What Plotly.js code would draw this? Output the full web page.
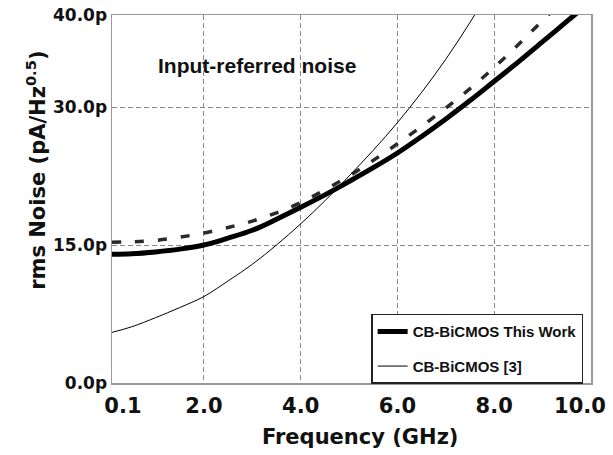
<!DOCTYPE html>
<html>
<head>
<meta charset="utf-8">
<script src="https://cdn.plot.ly/plotly-3.0.1.min.js"></script>
<style>html,body{margin:0;padding:0;background:#fff;}#chart{width:613px;height:455px;}</style>
</head>
<body>
<div id="chart"></div>
<script>
// Frequency samples (GHz)
const freq = [0.1, 0.5, 1, 1.5, 2, 2.5, 3, 3.5, 4, 4.5, 5, 5.5, 6, 6.5, 7, 7.5, 8, 8.5, 9, 9.5, 10];
// CB-BiCMOS This Work (solid, thick)
const thisWorkSolid = [14.0, 14.05, 14.25, 14.55, 15.0, 15.75, 16.6, 17.8, 19.1, 20.45, 21.9, 23.4, 25.0, 26.8, 28.7, 30.7, 32.8, 34.9, 37.1, 39.3, 41.5];
// CB-BiCMOS This Work (dashed)
const thisWorkDashed = [15.3, 15.35, 15.5, 15.85, 16.3, 16.9, 17.6, 18.5, 19.6, 21.0, 22.5, 24.2, 26.0, 27.9, 29.9, 32.0, 34.3, 36.8, 39.4, 42.0, 44.7];
// CB-BiCMOS [3] (thin)
const ref3 = [5.5, 6.1, 7.1, 8.2, 9.4, 11.1, 12.9, 15.0, 17.3, 19.8, 22.5, 25.3, 28.3, 31.6, 35.2, 39.2, 43.5, 48.0, 53.0, 58.0, 63.0];

const NB = '\u00a0';
const PAD3 = NB + NB + NB;
const xTickVals = [0.1, 2, 4, 6, 8, 10];
const xTickText = [PAD3 + PAD3 + '0.1', PAD3 + '2.0', PAD3 + '4.0', PAD3 + '6.0', PAD3 + '8.0', '10.0'];
const yTickVals = [0, 15, 30, 40];
const yTickText = ['0.0p', '15.0p', '30.0p', '40.0p'];

const traces = [
  {x: freq, y: thisWorkDashed, mode: 'lines', name: 'CB-BiCMOS This Work (dashed)', showlegend: false,
   line: {color: '#2a2a2a', width: 3.5, dash: '9px,14px', shape: 'spline'}},
  {x: freq, y: thisWorkSolid, mode: 'lines', name: 'CB-BiCMOS This Work', legendgroup: 'a', legendrank: 1,
   line: {color: '#000', width: 5, shape: 'spline'}},
  {x: freq, y: ref3, mode: 'lines', name: 'CB-BiCMOS [3]', legendgroup: 'b', legendrank: 2,
   line: {color: '#000', width: 1, shape: 'spline'}}
];

const tickFontX = {family: 'DejaVu Sans', size: 21, color: '#111', weight: 'bold'};
const tickFontY = {family: 'DejaVu Sans', size: 17, color: '#111', weight: 'bold'};

const layout = {
  width: 613, height: 455,
  margin: {l: 112, r: 22, t: 15, b: 72},
  paper_bgcolor: '#fff', plot_bgcolor: '#fff',
  showlegend: true,
  xaxis: {
    range: [0.1, 10], tickmode: 'array', tickvals: xTickVals, ticktext: xTickText,
    ticklabelshift: -11, ticklabelstandoff: 3, ticklabeloverflow: 'allow',
    showgrid: true, gridcolor: '#888', gridwidth: 1, griddash: '5px,3px',
    showline: true, mirror: true, linecolor: '#999', linewidth: 1.5,
    zeroline: false, ticks: '', tickfont: tickFontX
  },
  yaxis: {
    range: [0, 40], tickmode: 'array', tickvals: yTickVals, ticktext: yTickText,
    showgrid: true, gridcolor: '#888', gridwidth: 1, griddash: '5px,3px',
    showline: true, mirror: true, linecolor: '#999', linewidth: 1.5,
    zeroline: false, ticks: '', tickfont: tickFontY
  },
  legend: {
    x: 0.541, y: 0.188, xanchor: 'left', yanchor: 'top',
    bgcolor: '#fff', bordercolor: '#222', borderwidth: 1.5,
    font: {family: 'Liberation Sans', size: 15, color: '#111', weight: 'bold'},
    tracegroupgap: 12, itemwidth: 30, traceorder: 'grouped'
  },
  annotations: [
    {text: 'Input-referred noise', xref: 'paper', yref: 'paper', x: 0.302, y: 0.864,
     xanchor: 'center', yanchor: 'middle', showarrow: false,
     font: {family: 'Liberation Sans', size: 21, color: '#111', weight: 'bold'}},
    {text: 'Frequency (GHz)', xref: 'paper', yref: 'paper', x: 0.518, y: -0.147,
     xanchor: 'center', yanchor: 'middle', showarrow: false,
     font: {family: 'DejaVu Sans', size: 21, color: '#111', weight: 'bold'}},
    {text: 'rms Noise (pA/Hz<sup>0.5</sup>)', xref: 'paper', yref: 'paper', x: -0.159, y: 0.579,
     xanchor: 'center', yanchor: 'middle', textangle: -90, showarrow: false,
     font: {family: 'DejaVu Sans', size: 21, color: '#111', weight: 'bold'}}
  ]
};

Plotly.newPlot('chart', traces, layout, {displayModeBar: false, staticPlot: true});
</script>
</body>
</html>
